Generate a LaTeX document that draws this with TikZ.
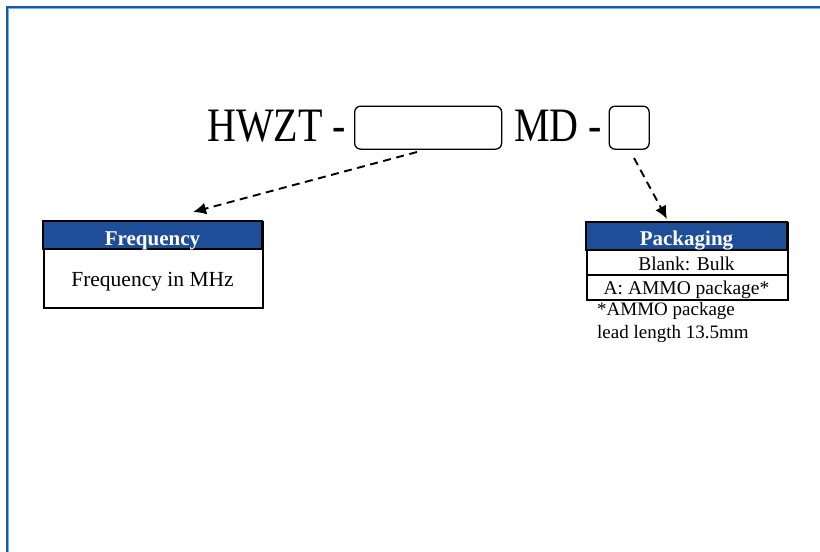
\documentclass[tikz,border=0pt]{standalone}
\usepackage{fontspec}
\setmainfont{Liberation Serif}
\usetikzlibrary{arrows.meta}
\definecolor{frameblue}{RGB}{24,88,168}
\definecolor{framelight}{RGB}{120,175,235}
\definecolor{headblue}{RGB}{30,78,152}
\tikzset{
  codebox/.style={draw=black, line width=1.3pt, rounded corners=6pt, anchor=north west, inner sep=0pt},
  tablebox/.style={draw=black, line width=1.8pt, anchor=north west, inner sep=0pt},
  headfill/.style={fill=headblue, draw=black, line width=1.8pt},
  headtext/.style={text=white, font=\fontsize{21}{21}\selectfont\bfseries, anchor=base},
  bigtext/.style={anchor=base west, inner sep=0pt},
  rowtext/.style={anchor=base, inner sep=0pt, font=\fontsize{19.5}{20}\selectfont},
  notetext/.style={anchor=base west, inner sep=0pt, font=\fontsize{19}{20}\selectfont},
  dasharrow/.style={line width=1.9pt, dash pattern=on 8pt off 5.5pt, -{Latex[length=13pt,width=12pt]}}
}
\begin{document}
\begin{tikzpicture}[x=1pt,y=-1pt]
\useasboundingbox (0,0) rectangle (820,552);
% frame
\draw[framelight, line width=0.9pt] (8.9,552) -- (8.9,8.9) -- (820,8.9);
\draw[frameblue, line width=2.4pt] (7,552) -- (7,7) -- (820,7);
% code line
\node[bigtext] (hwzt) at (207,141) {\scalebox{1}[1.2]{\fontsize{40}{40}\selectfont HWZT -}};
\node[codebox, minimum width=147pt, minimum height=43pt] (b1) at (354,105.5) {};
\node[bigtext] (md) at (514,141) {\scalebox{1}[1.2]{\fontsize{40}{40}\selectfont MD -}};
\node[codebox, minimum width=40pt, minimum height=43pt] (b2) at (608.5,105.5) {};
% frequency table
\node[tablebox, minimum width=219pt, minimum height=86pt] (freq) at (43,221) {};
\path[headfill] (freq.north west) rectangle (262,249);
\node[headtext] (freqh) at (152.5,245) {Frequency};
\node[rowtext, font=\fontsize{21.5}{22}\selectfont] (freqr) at (152.5,286) {Frequency in MHz};
% packaging table
\node[tablebox, minimum width=201pt, minimum height=77pt] (pack) at (586,222) {};
\path[headfill] (pack.north west) rectangle (787,250);
\draw[line width=1.8pt] (586,275) -- (787,275);
\node[headtext] (packh) at (686.5,245.5) {Packaging};
\node[rowtext] (row1) at (686.5,270) {Blank: Bulk};
\node[rowtext] (row2) at (686.5,294) {A: AMMO package*};
\node[notetext] (note1) at (597,315) {*AMMO package};
\node[notetext] (note2) at (597,338) {lead length 13.5mm};
% arrows
\coordinate (s1) at (417,152);
\coordinate (t1) at (193,212);
\coordinate (s2) at (634,158);
\coordinate (t2) at (667,219);
\draw[dasharrow] (s1) -- (t1);
\draw[dasharrow] (s2) -- (t2);
\end{tikzpicture}
\end{document}
